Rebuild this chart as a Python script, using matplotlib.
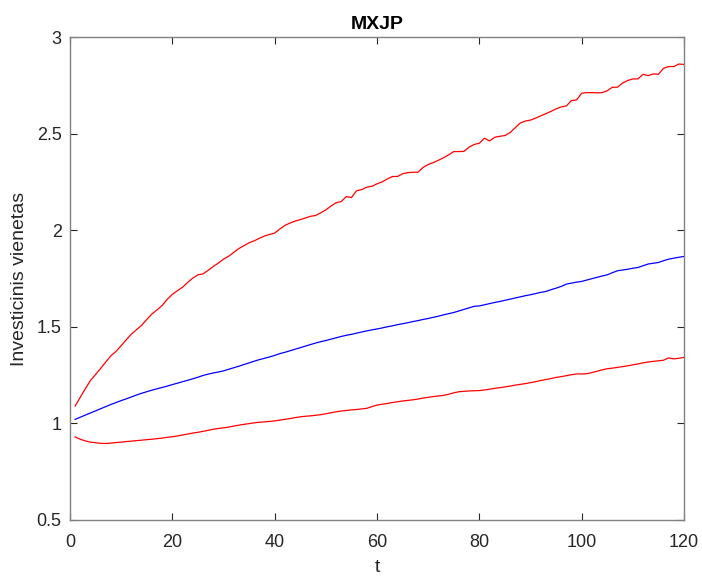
import numpy as np
import matplotlib
matplotlib.use("Agg")
import matplotlib.pyplot as plt

plt.rcParams['font.family'] = ['Liberation Sans', 'DejaVu Sans']

t = np.arange(1, 121)

upper = [
    1.090, 1.135, 1.180, 1.222, 1.253, 1.285, 1.318, 1.350, 1.373, 1.402,
    1.433, 1.462, 1.485, 1.508, 1.538, 1.566, 1.587, 1.610, 1.642, 1.668,
    1.687, 1.705, 1.730, 1.752, 1.769, 1.774, 1.792, 1.812, 1.830, 1.850,
    1.865, 1.885, 1.905, 1.920, 1.935, 1.945, 1.958, 1.970, 1.978, 1.985,
    2.006, 2.025, 2.037, 2.047, 2.055, 2.063, 2.072, 2.076, 2.090, 2.105,
    2.125, 2.142, 2.148, 2.174, 2.169, 2.204, 2.210, 2.223, 2.227, 2.240,
    2.250, 2.265, 2.278, 2.278, 2.292, 2.298, 2.300, 2.300, 2.325, 2.340,
    2.350, 2.362, 2.375, 2.390, 2.407, 2.407, 2.408, 2.430, 2.444, 2.450,
    2.476, 2.462, 2.481, 2.486, 2.490, 2.505, 2.530, 2.555, 2.565, 2.570,
    2.580, 2.592, 2.603, 2.615, 2.628, 2.638, 2.643, 2.671, 2.674, 2.709,
    2.712, 2.712, 2.711, 2.712, 2.722, 2.740, 2.740, 2.762, 2.775, 2.783,
    2.783, 2.807, 2.800, 2.809, 2.807, 2.838, 2.847, 2.847, 2.860, 2.858,
]

middle = [
    1.021, 1.032, 1.043, 1.054, 1.065, 1.076, 1.087, 1.098, 1.108, 1.118,
    1.127, 1.137, 1.147, 1.156, 1.164, 1.172, 1.179, 1.186, 1.193, 1.201,
    1.208, 1.216, 1.223, 1.231, 1.239, 1.248, 1.255, 1.261, 1.266, 1.272,
    1.280, 1.288, 1.296, 1.305, 1.313, 1.322, 1.330, 1.337, 1.344, 1.352,
    1.361, 1.368, 1.376, 1.384, 1.392, 1.400, 1.408, 1.416, 1.423, 1.429,
    1.436, 1.443, 1.450, 1.456, 1.461, 1.467, 1.473, 1.479, 1.484, 1.489,
    1.494, 1.500, 1.505, 1.511, 1.516, 1.521, 1.527, 1.532, 1.538, 1.543,
    1.549, 1.555, 1.562, 1.568, 1.574, 1.582, 1.590, 1.598, 1.606, 1.608,
    1.614, 1.620, 1.626, 1.631, 1.637, 1.643, 1.649, 1.655, 1.661, 1.666,
    1.672, 1.678, 1.683, 1.692, 1.700, 1.709, 1.721, 1.726, 1.731, 1.735,
    1.742, 1.749, 1.756, 1.763, 1.769, 1.780, 1.790, 1.794, 1.798, 1.803,
    1.807, 1.816, 1.825, 1.829, 1.833, 1.842, 1.850, 1.855, 1.860, 1.864,
]

lower = [
    0.930, 0.918, 0.909, 0.903, 0.900, 0.897, 0.896, 0.898, 0.901, 0.903,
    0.906, 0.908, 0.911, 0.913, 0.916, 0.918, 0.921, 0.924, 0.928, 0.931,
    0.935, 0.940, 0.945, 0.950, 0.954, 0.959, 0.964, 0.970, 0.974, 0.977,
    0.981, 0.986, 0.991, 0.995, 0.999, 1.003, 1.006, 1.008, 1.010, 1.013,
    1.017, 1.021, 1.025, 1.030, 1.034, 1.037, 1.039, 1.042, 1.045, 1.050,
    1.055, 1.060, 1.064, 1.067, 1.070, 1.072, 1.075, 1.078, 1.087, 1.095,
    1.099, 1.103, 1.108, 1.112, 1.116, 1.119, 1.122, 1.126, 1.131, 1.135,
    1.139, 1.142, 1.145, 1.151, 1.158, 1.164, 1.166, 1.168, 1.169, 1.170,
    1.173, 1.177, 1.181, 1.185, 1.189, 1.193, 1.198, 1.202, 1.206, 1.211,
    1.216, 1.222, 1.227, 1.232, 1.238, 1.242, 1.247, 1.252, 1.256, 1.256,
    1.257, 1.263, 1.270, 1.277, 1.283, 1.286, 1.290, 1.294, 1.298, 1.303,
    1.308, 1.313, 1.318, 1.321, 1.324, 1.327, 1.339, 1.334, 1.337, 1.342,
]

xticks = [0, 20, 40, 60, 80, 100, 120]
yticks = [0.5, 1.0, 1.5, 2.0, 2.5, 3.0]
ytick_labels = ["0.5", "1", "1.5", "2", "2.5", "3"]

fig = plt.figure(figsize=(7.02, 5.81), dpi=100)
ax = fig.add_axes([70 / 702, 61 / 581, 614 / 702, 483 / 581])

ax.plot(t, upper, color=(1, 0, 0), lw=0.9)
ax.plot(t, middle, color=(0, 0, 1), lw=0.9)
ax.plot(t, lower, color=(1, 0, 0), lw=0.9)

ax.set_xlim(0, 120)
ax.set_ylim(0.5, 3.0)
ax.set_xticks(xticks)
ax.set_yticks(yticks)
ax.set_yticklabels(ytick_labels)

axis_gray = (0.15, 0.15, 0.15)
for side in ax.spines.values():
    side.set_color((0.5, 0.5, 0.5))
    side.set_linewidth(1.0)
ax.tick_params(direction='in', top=True, right=True, length=5, width=0.8,
               colors=axis_gray, labelsize=13, pad=6)
ax.tick_params(axis='x', pad=10)

ax.set_title("MXJP", fontsize=14, fontweight='bold', color='black', pad=6)
ax.set_xlabel("t", fontsize=14, color=axis_gray, labelpad=6)
ax.set_ylabel("Investicinis vienetas", fontsize=14, color=axis_gray, labelpad=6)

fig.savefig("out.png", dpi=100)
